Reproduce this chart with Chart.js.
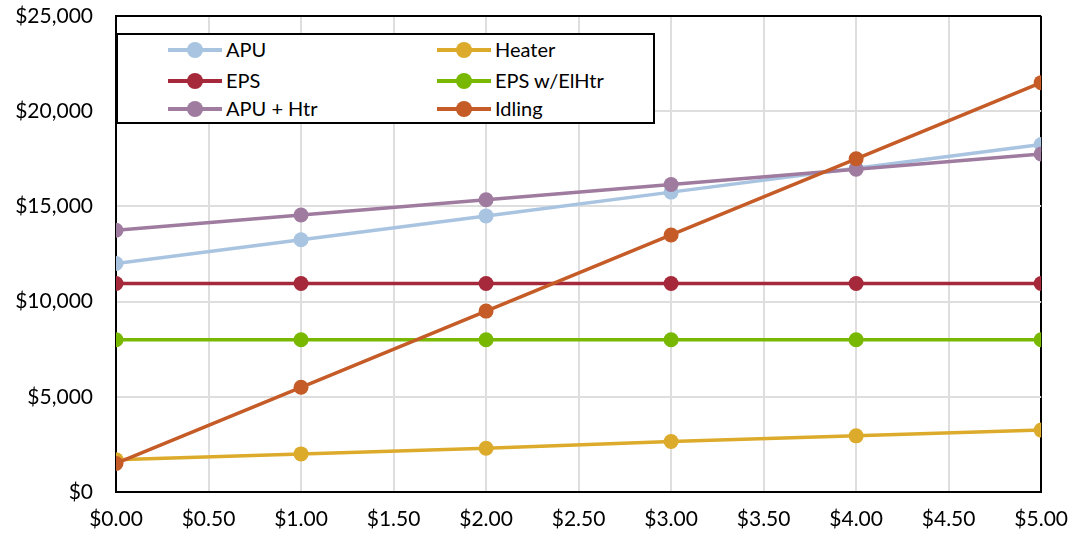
<!DOCTYPE html>
<html>
<head>
<meta charset="utf-8">
<script src="https://cdn.jsdelivr.net/npm/chart.js@4"></script>
<style>
  body { margin: 0; background: #fff; }
  #wrap { position: relative; width: 1083px; height: 536px; }
  #legend {
    position: absolute; left: 116px; top: 33px; width: 535px; height: 87px;
    border: 2px solid #000; background: #fff;
    font-family: Lato, "Open Sans", sans-serif; font-size: 20px; color: #000;
  }
  .item { position: absolute; height: 20px; line-height: 20px; }
  .item .ln { position: absolute; left: 0; top: 8px; width: 54px; height: 4px; }
  .item .dot { position: absolute; left: 19px; top: 2px; width: 16px; height: 16px; border-radius: 50%; }
  .item .tx { position: absolute; left: 58px; top: -1px; white-space: nowrap; }
</style>
</head>
<body>
<div id="wrap">
  <canvas id="myChart" width="1083" height="536"></canvas>
  <div id="legend"></div>
</div>
<script>
// fuel price on the x axis
var xValues = [0, 1, 2, 3, 4, 5];
var seriesNames = ["APU", "Heater", "EPS", "EPS w/ElHtr", "APU + Htr", "Idling"];
var apu     = [12000, 13250, 14500, 15750, 17000, 18250];
var heater  = [1700, 2000, 2300, 2650, 2950, 3250];
var eps     = [10950, 10950, 10950, 10950, 10950, 10950];
var epsHtr  = [8000, 8000, 8000, 8000, 8000, 8000];
var apuHtr  = [13750, 14550, 15350, 16150, 16950, 17750];
var idling  = [1500, 5500, 9500, 13500, 17500, 21500];
var lineColors = ["#a8c4e0", "#dcab2b", "#a5293a", "#78b800", "#9e7b9f", "#c55b27"];

var allSeries = [apu, heater, eps, epsHtr, apuHtr, idling];

var datasets = allSeries.map(function (vals, i) {
  return {
    label: seriesNames[i],
    data: vals.map(function (v, j) { return { x: xValues[j], y: v }; }),
    borderColor: lineColors[i],
    backgroundColor: lineColors[i],
    borderWidth: 3.5,
    pointRadius: 7.5,
    pointHoverRadius: 7.5,
    pointBorderWidth: 0,
    order: allSeries.length - i
  };
});

var font = { family: "Lato, 'Open Sans', sans-serif", size: 21 };

new Chart("myChart", {
  type: "line",
  data: { datasets: datasets },
  options: {
    responsive: false,
    animation: false,
    layout: { autoPadding: false, padding: { top: 16, right: 41, left: 0, bottom: 0 } },
    plugins: { legend: { display: false }, tooltip: { enabled: false } },
    scales: {
      x: {
        type: "linear",
        min: 0, max: 5,
        ticks: {
          stepSize: 0.5, color: "#000", font: font, padding: 15,
          callback: function (v) { return "$" + v.toFixed(2); }
        },
        grid: {
          drawTicks: false, lineWidth: 2,
          color: function (c) { return c.tick && c.tick.value === 5 ? "#000" : "#dedede"; }
        },
        border: { color: "#000", width: 2 },
        afterFit: function (s) { s.height = 44; }
      },
      y: {
        min: 0, max: 25000,
        ticks: {
          stepSize: 5000, color: "#000", font: font, padding: 23,
          callback: function (v) { return "$" + v.toLocaleString("en-US"); }
        },
        grid: {
          drawTicks: false, lineWidth: 2,
          color: function (c) { return c.tick && c.tick.value === 25000 ? "#000" : "#dedede"; }
        },
        border: { color: "#000", width: 2 },
        afterFit: function (s) { s.width = 116; s.paddingTop = 0; s.paddingBottom = 0; }
      }
    }
  }
});

// legend box drawn as html, two columns
var legend = document.getElementById("legend");
var colX = [50, 319];
var rowY = [5, 36, 64];
seriesNames.forEach(function (name, i) {
  var it = document.createElement("div");
  it.className = "item";
  it.style.left = colX[i % 2] + "px";
  it.style.top = rowY[Math.floor(i / 2)] + "px";
  it.innerHTML = '<div class="ln" style="background:' + lineColors[i] + '"></div>' +
    '<div class="dot" style="background:' + lineColors[i] + '"></div>' +
    '<div class="tx"></div>';
  it.querySelector(".tx").textContent = name;
  legend.appendChild(it);
});
</script>
</body>
</html>
